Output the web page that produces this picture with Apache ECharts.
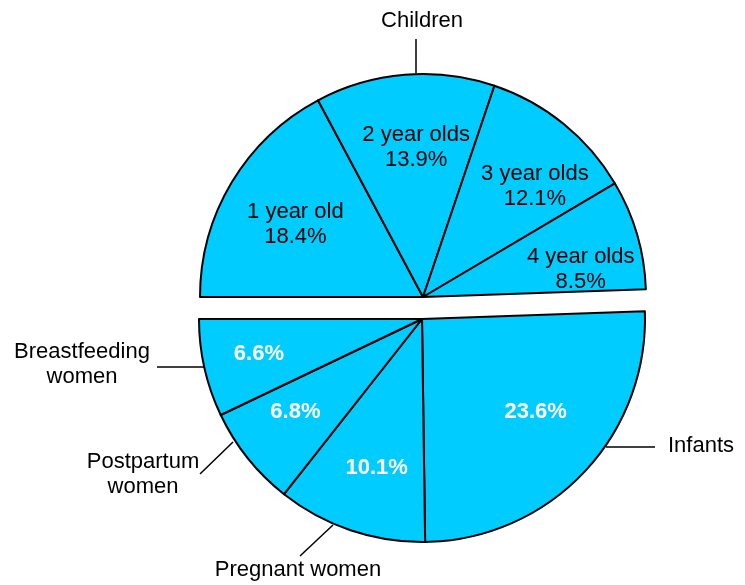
<!DOCTYPE html>
<html>
<head>
<meta charset="utf-8">
<title>Participants by category</title>
<script src="https://cdn.jsdelivr.net/npm/echarts@6/dist/echarts.min.js"></script>
<style>
  html, body { margin: 0; padding: 0; background: #fff; }
  #chart { width: 745px; height: 585px; }
</style>
</head>
<body>
<div id="chart"></div>
<script>
  // shares of all participants, in percent
  const childCategories = ['1 year old', '2 year olds', '3 year olds', '4 year olds']
  const childShares = [18.4, 13.9, 12.1, 8.5]
  const womenInfantCategories = ['Infants', 'Pregnant women', 'Postpartum women', 'Breastfeeding women']
  const womenInfantShares = [23.6, 10.1, 6.8, 6.6]
  const groupName = 'Children'

  const FILL = '#00CCFF'
  const FONT = '"Liberation Sans", Arial, sans-serif'
  const R = 223
  const TOP_CENTER = [423, 297]
  const BOTTOM_CENTER = [422, 319]
  // transparent ring used only to carry the inside labels further out
  const LABEL_RING = [Math.round(R * 0.38), R]

  // small shifts of the inside labels, px (they are not exactly on the mid angle)
  const childNudge = [[7, 8], [6, 7], [13, 11], [7, 17]]
  const womenNudge = [[0, -15], [5, 0], [-4, -5], [-10, 0]]

  // outside labels: text centre + leader line from the rim
  const outerLabels = [
    { x: 701, y: 446, line: [[606, 447], [655, 447]] },              // Infants
    { x: 298, y: 570, line: [[333, 525], [300, 556]] },              // Pregnant women
    { x: 143, y: 474, line: [[233, 442], [200, 474]], wrap: true },  // Postpartum women
    { x: 82, y: 364, line: [[204, 367], [157, 367]], wrap: true }    // Breastfeeding women
  ]
  const groupLabel = { x: 422, y: 21, line: [[416, 73], [416, 39]] }

  function guide(line) {
    const a = line[0], b = line[1]
    return [a, [(a[0] + b[0]) / 2, (a[1] + b[1]) / 2], b]
  }

  function nudged(table) {
    return function (params) {
      const r = params.labelRect
      const d = table[params.dataIndex]
      return {
        x: r.x + r.width / 2 + d[0],
        y: r.y + r.height / 2 + d[1],
        align: 'center',
        verticalAlign: 'middle'
      }
    }
  }

  const baseText = { fontFamily: FONT, fontSize: 22, lineHeight: 25, color: '#000' }
  const sectorStyle = { color: FILL, borderColor: '#000', borderWidth: 2 }
  const clear = { color: 'rgba(0,0,0,0)', borderWidth: 0 }
  const sum = arr => arr.reduce((a, b) => a + b, 0)

  const childData = childCategories.map((name, i) => ({ name, value: childShares[i] }))
  const womenData = womenInfantCategories.map((name, i) => ({ name, value: womenInfantShares[i] }))

  const myChart = echarts.init(document.getElementById('chart'))
  myChart.setOption({
    animation: false,
    backgroundColor: '#fff',
    series: [
      // top half: children by age
      {
        name: 'children',
        type: 'pie',
        center: TOP_CENTER,
        radius: [0, R],
        startAngle: 180,
        endAngle: 2,
        clockwise: true,
        silent: true,
        itemStyle: sectorStyle,
        label: { show: false },
        labelLine: { show: false },
        data: childData
      },
      {
        name: 'childrenLabels',
        type: 'pie',
        center: TOP_CENTER,
        radius: LABEL_RING,
        startAngle: 180,
        endAngle: 2,
        silent: true,
        itemStyle: clear,
        label: Object.assign({ show: true, position: 'inside', formatter: '{b}\n{c}%' }, baseText),
        labelLine: { show: false },
        labelLayout: nudged(childNudge),
        data: childData
      },
      // group caption above the top half
      {
        name: 'group',
        type: 'pie',
        center: TOP_CENTER,
        radius: [0, R],
        startAngle: 180,
        endAngle: 2,
        silent: true,
        itemStyle: clear,
        label: Object.assign({ show: true, position: 'outside', formatter: '{b}' }, baseText),
        labelLine: { show: true, lineStyle: { color: '#000', width: 1.5 } },
        labelLayout: () => ({
          x: groupLabel.x, y: groupLabel.y, align: 'center', verticalAlign: 'middle',
          labelLinePoints: guide(groupLabel.line)
        }),
        data: [{ name: groupName, value: sum(childShares) }]
      },
      // bottom half: infants and women
      {
        name: 'womenInfants',
        type: 'pie',
        center: BOTTOM_CENTER,
        radius: [0, R],
        startAngle: 2,
        endAngle: -180,
        silent: true,
        itemStyle: sectorStyle,
        label: Object.assign({
          show: true,
          position: 'outside',
          formatter(p) {
            // break the long names onto two lines
            if (!outerLabels[p.dataIndex].wrap) return p.name
            const k = p.name.lastIndexOf(' ')
            return p.name.slice(0, k) + '\n' + p.name.slice(k + 1)
          }
        }, baseText),
        labelLine: { show: true, lineStyle: { color: '#000', width: 1.5 } },
        labelLayout(params) {
          const o = outerLabels[params.dataIndex]
          return { x: o.x, y: o.y, align: 'center', verticalAlign: 'middle', labelLinePoints: guide(o.line) }
        },
        data: womenData
      },
      {
        name: 'womenInfantsLabels',
        type: 'pie',
        center: BOTTOM_CENTER,
        radius: LABEL_RING,
        startAngle: 2,
        endAngle: -180,
        silent: true,
        itemStyle: clear,
        label: Object.assign({}, baseText, {
          show: true, position: 'inside', formatter: '{c}%', color: '#fff', fontWeight: 'bold'
        }),
        labelLine: { show: false },
        labelLayout: nudged(womenNudge),
        data: womenData
      }
    ]
  })
</script>
</body>
</html>
